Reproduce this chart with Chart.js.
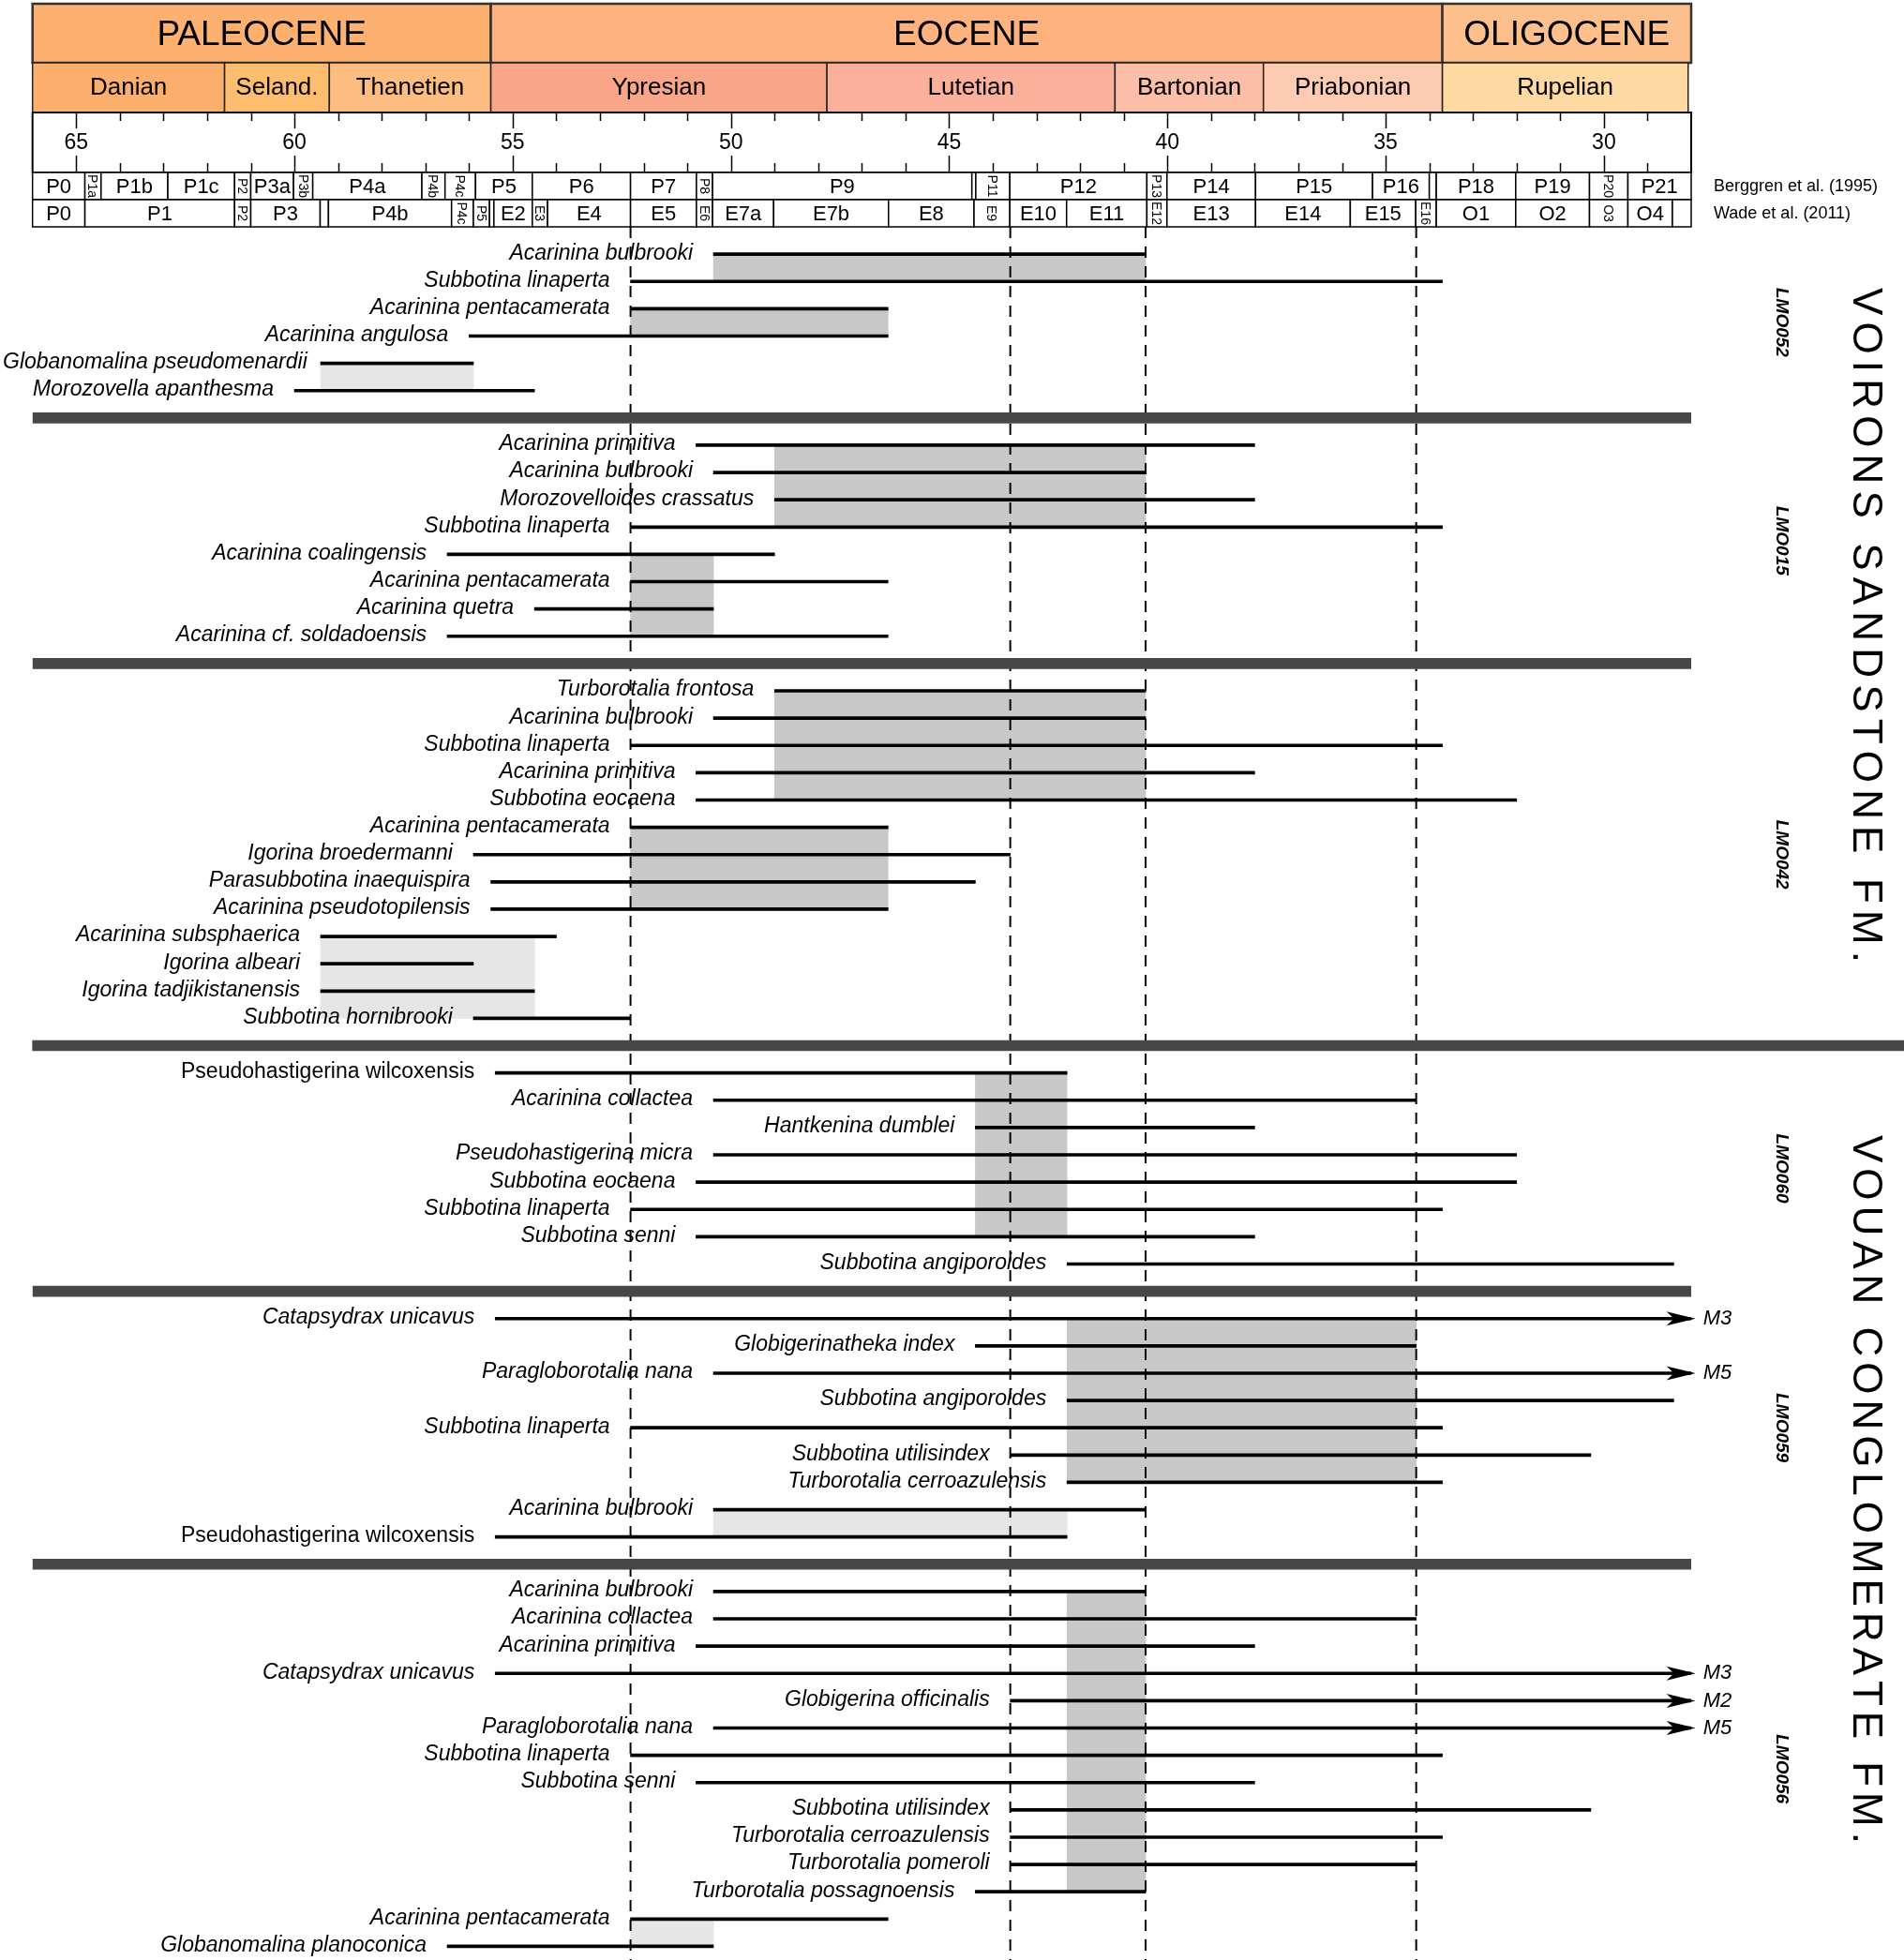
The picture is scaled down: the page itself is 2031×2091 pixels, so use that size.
<!DOCTYPE html>
<html>
<head>
<meta charset="utf-8">
<script src="https://cdn.jsdelivr.net/npm/chart.js@4.4.0/dist/chart.umd.min.js"></script>
<style>
  html, body { margin: 0; padding: 0; background: #fff; }
  canvas { display: block; }
</style>
</head>
<body>
<canvas id="chart" width="2031" height="2091"></canvas>
<script>
// time scale, ages in Ma
const epochNames = ['PALEOCENE', 'EOCENE', 'OLIGOCENE'];
const epochBounds = [66, 55.5, 33.7, 28];
const stageNames = ['Danian', 'Seland.', 'Thanetien', 'Ypresian', 'Lutetian', 'Bartonian', 'Priabonian', 'Rupelian'];
const stageBounds = [66, 61.6, 59.2, 55.5, 47.8, 41.2, 37.8, 33.7, 28.07];
const tickLabels = [65, 60, 55, 50, 45, 40, 35, 30];

const berggrenZones = ['P0', 'P1a', 'P1b', 'P1c', 'P2', 'P3a', 'P3b', 'P4a', 'P4b', 'P4c', 'P5', 'P6', 'P7', 'P8', 'P9', '', 'P11', 'P12', 'P13', 'P14', 'P15', 'P16', '', 'P18', 'P19', 'P20', 'P21'];
const berggrenBounds = [66, 64.8, 64.43, 62.9, 61.37, 61.0, 60.02, 59.58, 57.08, 56.55, 55.85, 54.55, 52.3, 50.79, 50.42, 44.48, 44.39, 43.61, 40.47, 40.01, 37.98, 35.3, 34.0, 33.84, 32.02, 30.33, 29.45, 28];
const berggrenVertical = ['P1a', 'P2', 'P3b', 'P4b', 'P4c', 'P8', 'P11', 'P13', 'P20'];

const wadeZones = ['P0', 'P1', 'P2', 'P3', '', 'P4b', 'P4c', 'P5', '', 'E2', 'E3', 'E4', 'E5', 'E6', 'E7a', 'E7b', 'E8', 'E9', 'E10', 'E11', 'E12', 'E13', 'E14', 'E15', 'E16', 'O1', 'O2', 'O3', 'O4', ''];
const wadeBounds = [66, 64.8, 61.37, 61.0, 59.41, 59.22, 56.4, 55.9, 55.53, 55.43, 54.55, 54.2, 52.3, 50.79, 50.42, 49.02, 46.39, 44.43, 43.61, 42.31, 40.47, 40.01, 37.98, 35.81, 34.31, 33.84, 32.02, 30.33, 29.45, 28.43, 28];
const wadeVertical = ['P2', 'P4c', 'P5', 'E3', 'E6', 'E9', 'E12', 'E16', 'O3'];

// samples and their planktonic foraminifera
const samples = ['LMO052', 'LMO015', 'LMO042', 'LMO060', 'LMO059', 'LMO056'];
const groupSizes = [6, 8, 13, 8, 9, 14];
const formations = ['VOIRONS SANDSTONE FM.', 'VOUAN CONGLOMERATE FM.'];
const formationBreak = 2;

const taxa = [
  'Acarinina bulbrooki', 'Subbotina linaperta', 'Acarinina pentacamerata', 'Acarinina angulosa', 'Globanomalina pseudomenardii', 'Morozovella apanthesma',
  'Acarinina primitiva', 'Acarinina bulbrooki', 'Morozovelloides crassatus', 'Subbotina linaperta', 'Acarinina coalingensis', 'Acarinina pentacamerata', 'Acarinina quetra', 'Acarinina cf. soldadoensis',
  'Turborotalia frontosa', 'Acarinina bulbrooki', 'Subbotina linaperta', 'Acarinina primitiva', 'Subbotina eocaena', 'Acarinina pentacamerata', 'Igorina broedermanni', 'Parasubbotina inaequispira', 'Acarinina pseudotopilensis', 'Acarinina subsphaerica', 'Igorina albeari', 'Igorina tadjikistanensis', 'Subbotina hornibrooki',
  'Pseudohastigerina wilcoxensis', 'Acarinina collactea', 'Hantkenina dumblei', 'Pseudohastigerina micra', 'Subbotina eocaena', 'Subbotina linaperta', 'Subbotina senni', 'Subbotina angiporoides',
  'Catapsydrax unicavus', 'Globigerinatheka index', 'Paragloborotalia nana', 'Subbotina angiporoides', 'Subbotina linaperta', 'Subbotina utilisindex', 'Turborotalia cerroazulensis', 'Acarinina bulbrooki', 'Pseudohastigerina wilcoxensis',
  'Acarinina bulbrooki', 'Acarinina collactea', 'Acarinina primitiva', 'Catapsydrax unicavus', 'Globigerina officinalis', 'Paragloborotalia nana', 'Subbotina linaperta', 'Subbotina senni', 'Subbotina utilisindex', 'Turborotalia cerroazulensis', 'Turborotalia pomeroli', 'Turborotalia possagnoensis', 'Acarinina pentacamerata', 'Globanomalina planoconica'
];
const firstAge = [
  50.4, 52.3, 52.3, 56.0, 59.4, 60.0,
  50.8, 50.4, 49.0, 52.3, 56.5, 52.3, 54.5, 56.5,
  49.0, 50.4, 52.3, 50.8, 50.8, 52.3, 55.9, 55.5, 55.5, 59.4, 59.4, 59.4, 55.9,
  55.4, 50.4, 44.4, 50.4, 50.8, 52.3, 50.8, 42.3,
  55.4, 44.4, 50.4, 42.3, 52.3, 43.6, 42.3, 50.4, 55.4,
  50.4, 50.4, 50.8, 55.4, 43.6, 50.4, 52.3, 50.8, 43.6, 43.6, 43.6, 44.4, 52.3, 56.5
];
const lastAge = [
  40.5, 33.7, 46.4, 46.4, 55.9, 54.5,
  38.0, 40.5, 38.0, 33.7, 49.0, 46.4, 50.4, 46.4,
  40.5, 40.5, 33.7, 38.0, 32.0, 46.4, 43.6, 44.4, 46.4, 54.0, 55.9, 54.5, 52.3,
  42.3, 34.3, 38.0, 32.0, 32.0, 33.7, 38.0, 28.4,
  27.9, 34.3, 27.9, 28.4, 33.7, 30.3, 33.7, 40.5, 42.3,
  40.5, 34.3, 38.0, 27.9, 27.9, 27.9, 33.7, 38.0, 30.3, 33.7, 34.3, 40.5, 46.4, 50.4
];
const uprightTaxa = ['Pseudohastigerina wilcoxensis'];
const arrowTaxa = [35, 37, 47, 48, 49];
const arrowLabels = ['M3', 'M5', 'M3', 'M2', 'M5'];

// shaded age intervals (taxon index of top and bottom row)
const boxFrom = [50.4, 52.3, 59.4, 49.0, 52.3, 49.0, 52.3, 59.4, 44.4, 42.3, 50.4, 42.3, 52.3];
const boxTo = [40.5, 46.4, 55.9, 40.5, 50.4, 40.5, 46.4, 54.5, 42.3, 34.3, 42.3, 40.5, 50.4];
const boxTop = [0, 2, 4, 6, 10, 14, 19, 23, 27, 35, 42, 44, 56];
const boxBottom = [1, 3, 5, 9, 13, 18, 22, 26, 33, 41, 43, 55, 57];
const boxLight = [false, false, true, false, false, false, false, true, false, false, true, false, true];

const guideAges = [52.3, 43.6, 40.5, 34.3];

// layout
const W = 2031, H = 2091, TOP = 242;
const Y_MIN = -1, Y_MAX = 62.5;
const PITCH = (H - TOP) / (Y_MAX - Y_MIN);
const FONT = '"Liberation Sans", Arial, Helvetica, sans-serif';

const groupOf = [];
groupSizes.forEach((n, g) => { for (let i = 0; i < n; i++) groupOf.push(g); });
const rowSlot = taxa.map((t, i) => i + groupOf[i]);
const sepSlots = [];
let acc = 0;
groupSizes.slice(0, -1).forEach(n => { acc += n; sepSlots.push(acc + sepSlots.length); });

const datasets = [];

boxFrom.forEach((a, k) => {
  const s0 = rowSlot[boxTop[k]], s1 = rowSlot[boxBottom[k]];
  datasets.push({
    type: 'bar', stack: 'rows', order: 4,
    data: [{ y: (s0 + s1) / 2, x: [a, boxTo[k]] }],
    backgroundColor: boxLight[k] ? '#e6e6e6' : '#c8c8c8',
    barThickness: (s1 - s0) * PITCH,
    borderWidth: 0
  });
});

guideAges.forEach(a => {
  datasets.push({
    type: 'line', order: 3,
    data: [{ x: a, y: Y_MIN }, { x: a, y: Y_MAX }],
    borderColor: '#000', borderWidth: 2, borderDash: [12, 9],
    pointRadius: 0, fill: false
  });
});

datasets.push({
  type: 'bar', stack: 'rows', order: 2,
  data: sepSlots.filter((s, i) => i !== formationBreak).map(s => ({ y: s, x: [66, 28] })),
  backgroundColor: '#474747', barThickness: 11, borderWidth: 0
});
datasets.push({
  type: 'bar', stack: 'rows', order: 2, clip: false,
  data: [{ y: sepSlots[formationBreak], x: [66, 23.1] }],
  backgroundColor: '#474747', barThickness: 11, borderWidth: 0
});

datasets.push({
  type: 'bar', stack: 'rows', order: 1,
  data: taxa.map((t, i) => ({ y: rowSlot[i], x: [firstAge[i], lastAge[i]] })),
  backgroundColor: '#000', barThickness: 3, borderWidth: 0
});

function zoneRow(ctx, X, names, bounds, vertical, y0, y1) {
  ctx.lineWidth = 1.5;
  ctx.strokeStyle = '#000';
  for (let i = 0; i < names.length; i++) {
    const xa = X(bounds[i]), xb = X(bounds[i + 1]);
    ctx.fillStyle = '#fff';
    ctx.fillRect(xa, y0, xb - xa, y1 - y0);
    ctx.strokeRect(xa, y0, xb - xa, y1 - y0);
    if (!names[i]) continue;
    ctx.fillStyle = '#000';
    const cx = (xa + xb) / 2, cy = (y0 + y1) / 2;
    if (vertical.includes(names[i])) {
      ctx.save();
      ctx.translate(cx, cy);
      ctx.rotate(Math.PI / 2);
      ctx.font = '14px ' + FONT;
      ctx.fillText(names[i], 0, 1);
      ctx.restore();
    } else {
      ctx.font = '22px ' + FONT;
      ctx.fillText(names[i], cx, cy + 1);
    }
  }
}

const headerPlugin = {
  id: 'header',
  afterDraw(chart) {
    const ctx = chart.ctx;
    const X = v => chart.scales.x.getPixelForValue(v);
    ctx.save();
    ctx.textAlign = 'center';
    ctx.textBaseline = 'middle';

    const epochColors = ['#fcb170', '#fdb280', '#fdbf8c'];
    epochNames.forEach((n, i) => {
      const xa = X(epochBounds[i]), xb = X(epochBounds[i + 1]);
      ctx.fillStyle = epochColors[i];
      ctx.fillRect(xa, 4, xb - xa, 63);
      ctx.strokeStyle = '#333';
      ctx.lineWidth = 2.5;
      ctx.strokeRect(xa, 4, xb - xa, 63);
      ctx.fillStyle = '#000';
      ctx.font = '37px ' + FONT;
      ctx.fillText(n, (xa + xb) / 2, 38);
    });

    const stageColors = ['#fcaf6c', '#fdbd6f', '#fdbd80', '#f9a58a', '#fbb09b', '#fcbea6', '#fdcbb2', '#fed9a1'];
    stageNames.forEach((n, i) => {
      const xa = X(stageBounds[i]), xb = X(stageBounds[i + 1]);
      ctx.fillStyle = stageColors[i];
      ctx.fillRect(xa, 67, xb - xa, 53);
      ctx.strokeStyle = '#222';
      ctx.lineWidth = 1.5;
      ctx.strokeRect(xa, 67, xb - xa, 53);
      ctx.fillStyle = '#000';
      ctx.font = '26px ' + FONT;
      ctx.fillText(n, (xa + xb) / 2, 94);
    });

    // age scale
    const x0 = X(66), x1 = X(28);
    ctx.fillStyle = '#fff';
    ctx.fillRect(x0, 120, x1 - x0, 64);
    ctx.strokeStyle = '#000';
    ctx.lineWidth = 2;
    ctx.strokeRect(x0, 120, x1 - x0, 64);
    ctx.lineWidth = 1.5;
    for (let v = 65; v > 28; v--) {
      const major = v % 5 === 0;
      const x = Math.round(X(v)) + 0.5;
      const len = major ? 17 : 9;
      ctx.beginPath();
      ctx.moveTo(x, 120); ctx.lineTo(x, 120 + len);
      ctx.moveTo(x, 184 - (major ? 18 : 10)); ctx.lineTo(x, 184);
      ctx.stroke();
    }
    ctx.fillStyle = '#000';
    ctx.font = '23px ' + FONT;
    tickLabels.forEach(v => ctx.fillText(String(v), X(v), 153));

    zoneRow(ctx, X, berggrenZones, berggrenBounds, berggrenVertical, 184, 213);
    zoneRow(ctx, X, wadeZones, wadeBounds, wadeVertical, 213, 242);

    ctx.textAlign = 'left';
    ctx.fillStyle = '#000';
    ctx.font = '18px ' + FONT;
    ctx.fillText('Berggren et al. (1995)', 1828, 199);
    ctx.fillText('Wade et al. (2011)', 1828, 228);
    ctx.restore();
  }
};

function spacedVertical(ctx, text, cx, ya, yb, font) {
  ctx.save();
  ctx.font = font;
  const widths = [...text].map(c => ctx.measureText(c).width);
  const total = widths.reduce((s, w) => s + w, 0);
  const gap = (yb - ya - total) / (text.length - 1);
  ctx.translate(cx, ya);
  ctx.rotate(Math.PI / 2);
  ctx.textAlign = 'left';
  ctx.textBaseline = 'middle';
  let pos = 0;
  [...text].forEach((c, i) => { ctx.fillText(c, pos, 0); pos += widths[i] + gap; });
  ctx.restore();
}

const labelPlugin = {
  id: 'labels',
  afterDatasetsDraw(chart) {
    const ctx = chart.ctx;
    const xs = chart.scales.x, ys = chart.scales.y;
    ctx.save();
    ctx.fillStyle = '#000';
    ctx.textAlign = 'right';
    ctx.textBaseline = 'middle';
    taxa.forEach((name, i) => {
      ctx.font = (uprightTaxa.includes(name) ? '' : 'italic ') + '23px ' + FONT;
      const x = xs.getPixelForValue(firstAge[i]) - 22;
      const w = ctx.measureText(name).width;
      ctx.fillText(name, Math.max(x, w + 3), ys.getPixelForValue(rowSlot[i]) - 1);
    });

    arrowTaxa.forEach((t, k) => {
      const tip = xs.getPixelForValue(lastAge[t]);
      const y = ys.getPixelForValue(rowSlot[t]);
      ctx.beginPath();
      ctx.moveTo(tip, y);
      ctx.lineTo(tip - 31, y - 7.5);
      ctx.lineTo(tip - 23, y);
      ctx.lineTo(tip - 31, y + 7.5);
      ctx.closePath();
      ctx.fill();
      ctx.textAlign = 'left';
      ctx.font = 'italic 22px ' + FONT;
      ctx.fillText(arrowLabels[k], tip + 8, y);
    });

    // sample codes
    let start = 0;
    samples.forEach((s, g) => {
      const a = rowSlot[start], b = rowSlot[start + groupSizes[g] - 1];
      start += groupSizes[g];
      ctx.save();
      ctx.translate(1900, ys.getPixelForValue((a + b) / 2));
      ctx.rotate(Math.PI / 2);
      ctx.textAlign = 'center';
      ctx.font = 'italic bold 19px ' + FONT;
      ctx.fillText(s, 0, 0);
      ctx.restore();
    });

    const spans = [[1.23, 25.96], [32.28, 58.24]];
    formations.forEach((f, i) => {
      spacedVertical(ctx, f, 1989, ys.getPixelForValue(spans[i][0]), ys.getPixelForValue(spans[i][1]), '44px ' + FONT);
    });
    ctx.restore();
  }
};

new Chart(document.getElementById('chart'), {
  type: 'bar',
  data: { datasets: datasets },
  options: {
    indexAxis: 'y',
    responsive: false,
    maintainAspectRatio: false,
    animation: false,
    events: [],
    layout: { padding: { top: TOP, left: 34.7, right: W - 1804, bottom: 0 } },
    scales: {
      x: { type: 'linear', min: 28, max: 66, reverse: true, display: false, offset: false, stacked: false },
      y: { type: 'linear', min: Y_MIN, max: Y_MAX, reverse: true, display: false, offset: false }
    },
    plugins: {
      legend: { display: false },
      tooltip: { enabled: false }
    }
  },
  plugins: [headerPlugin, labelPlugin]
});
</script>
</body>
</html>
